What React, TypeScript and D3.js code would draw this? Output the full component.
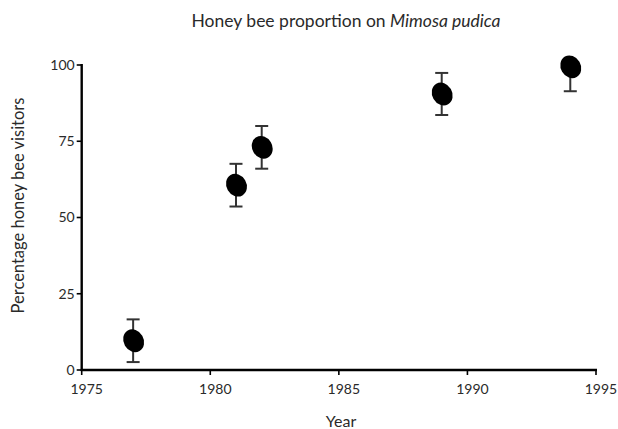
import React from "react";
import * as d3 from "d3";

const years = [1977, 1981, 1982, 1989, 1994];
const means = [9.6, 60.6, 73, 90.5, 99.4];
const errors = [7, 7, 7, 6.9, 8];
const xTicks = [1975, 1980, 1985, 1990, 1995];
const yTicks = [0, 25, 50, 75, 100];

const W = 618;
const H = 429;
const left = 81.7;
const right = 596;
const top = 65;
const bottom = 370;

export default function App() {
  const x = d3.scaleLinear().domain([1975, 1995]).range([left, right]);
  const y = d3.scaleLinear().domain([0, 100]).range([bottom, top]);
  const font = "Lato, 'Open Sans', sans-serif";
  const textColor = "#2a2a2a";
  return (
    <svg width={W} height={H} style={{ position: "absolute", left: 0, top: 0, background: "#fff" }}>
      <text x={346} y={27} textAnchor="middle" fontFamily={font} fontSize={17.5} fill={textColor}>
        Honey bee proportion on <tspan fontStyle="italic">Mimosa pudica</tspan>
      </text>
      <line x1={left} x2={left} y1={y(100) - 1} y2={bottom + 1} stroke="#000" strokeWidth={2.4} />
      <line x1={left - 1} x2={right + 1} y1={bottom} y2={bottom} stroke="#000" strokeWidth={2.4} />
      {yTicks.map((t) => (
        <g key={"y" + t}>
          <line x1={left - 5} x2={left} y1={y(t)} y2={y(t)} stroke="#000" strokeWidth={1.6} />
          <text x={left - 7} y={y(t) + 4.8} textAnchor="end" fontFamily={font} fontSize={14} fill={textColor}>
            {t}
          </text>
        </g>
      ))}
      {xTicks.map((t) => (
        <g key={"x" + t}>
          <line x1={x(t)} x2={x(t)} y1={bottom} y2={bottom + 5} stroke="#000" strokeWidth={1.6} />
          <text x={x(t) + 5} y={bottom + 24} textAnchor="middle" fontFamily={font} fontSize={14} fill={textColor}>
            {t}
          </text>
        </g>
      ))}
      <text x={341} y={427} textAnchor="middle" fontFamily={font} fontSize={16} fill={textColor}>
        Year
      </text>
      <text
        transform={`translate(24, ${y(50) - 12}) rotate(-90)`}
        textAnchor="middle"
        fontFamily={font}
        fontSize={16.5}
        fill={textColor}
      >
        Percentage honey bee visitors
      </text>
      {years.map((yr, i) => {
        const cx = x(yr);
        const cy = y(means[i]);
        const hi = Math.min(100, means[i] + errors[i]);
        const lo = means[i] - errors[i];
        return (
          <g key={yr}>
            <line x1={cx} x2={cx} y1={y(hi)} y2={y(lo)} stroke="#333" strokeWidth={2} />
            {hi < 100 && <line x1={cx - 6.5} x2={cx + 6.5} y1={y(hi)} y2={y(hi)} stroke="#333" strokeWidth={2} />}
            <line x1={cx - 6.5} x2={cx + 6.5} y1={y(lo)} y2={y(lo)} stroke="#333" strokeWidth={2} />
            <ellipse cx={cx + 0.5} cy={cy} rx={10} ry={11.8} transform={`rotate(-30, ${cx + 0.5}, ${cy})`} fill="#000" />
          </g>
        );
      })}
    </svg>
  );
}
